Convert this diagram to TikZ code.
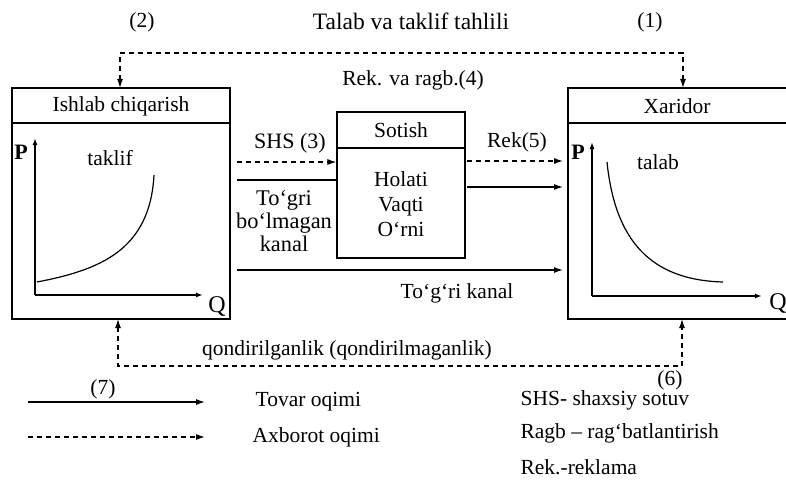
\documentclass[tikz,border=0pt]{standalone}
\usepackage{fontspec}
\setmainfont{Liberation Serif}
\usetikzlibrary{arrows.meta}
\begin{document}
\begin{tikzpicture}[x=1pt,y=-1pt,line width=1.2pt, >={Latex[length=9pt,width=6pt]},
  font=\fontsize{21.5}{25}\selectfont,
  box/.style={draw,rectangle,inner sep=0pt},
  info/.style={dash pattern=on 5pt off 4pt},
  lbl/.style={inner sep=0pt,align=center},
  axlbl/.style={lbl,font=\fontsize{22}{26}\selectfont\bfseries},
  ax/.style={->,line width=1.4pt,>={Latex[length=7pt,width=5pt]}}]

  \useasboundingbox (0,0) rectangle (786,484);

  \def\ytop{88}
  \def\ybot{319}
  \def\yhead{123}

  % Boxes
  \node[box,minimum width=218pt,minimum height=231pt] (ishlab) at (121,203.5) {};
  \draw (12,\yhead) -- (230,\yhead);
  \node[lbl] (ishlabt) at (121,106) {Ishlab chiqarish};

  \node[box,minimum width=128pt,minimum height=146pt] (sotish) at (401,185) {};
  \draw (337,148) -- (465,148);
  \node[lbl] (sotisht) at (401,130) {Sotish};
  \node[lbl] (holat) at (401,204) {Holati\\Vaqti\\O‘rni};

  \draw (786,\ytop) -- (568,\ytop) -- (568,\ybot) -- (786,\ybot);
  \draw (568,\yhead) -- (786,\yhead);
  \node[lbl] (xaridort) at (677,106) {Xaridor};

  % Supply and demand graphs
  \coordinate (o1) at (35,295);
  \draw[ax] (o1) -- (35,138);
  \draw[ax] (o1) -- (203,295);
  \node[axlbl] (p1) at (21,152) {P};
  \node[lbl,font=\fontsize{24}{28}\selectfont] (q1) at (217,306) {Q};
  \node[lbl] (taklif) at (110,158) {taklif};
  \draw (37,282) .. controls (100,270) and (150,250) .. (154,175);

  \coordinate (o2) at (592,296);
  \draw[ax] (o2) -- (592,142);
  \draw[ax] (o2) -- (762,296);
  \node[axlbl] (p2) at (578,152) {P};
  \node[lbl,font=\fontsize{24}{28}\selectfont] (q2) at (778,303) {Q};
  \node[lbl] (talab) at (658,162) {talab};
  \draw (607,162) .. controls (615,240) and (650,280) .. (723,282);

  % Channels between the boxes
  \coordinate (shs) at (237,162);
  \coordinate (egri) at (237,180);
  \coordinate (tegri) at (237,270);
  \coordinate (rek) at (467,161);
  \coordinate (tov) at (467,187);
  \draw[info,->] (shs) -- (shs -| sotish.west);
  \draw (egri) -- (egri -| sotish.west);
  \draw[->] (tegri) -- (563,270);
  \draw[info,->] (rek) -- (563,161);
  \draw[->] (tov) -- (563,187);
  \node[lbl,font=\fontsize{22}{26}\selectfont] (shst) at (290,143) {SHS (3)};
  \node[lbl] (rekt) at (517,142) {Rek(5)};
  \node[lbl,font=\fontsize{22.4}{23}\selectfont] (egrit) at (284,221) {To‘gri\\bo‘lmagan\\kanal};
  \node[lbl] (tegrit) at (457,293) {To‘g‘ri kanal};
  \node[lbl] (rekva) at (413,80) {Rek. va ragb.(4)};

  % Feedback loops
  \draw[info,<->] (120,\ytop) |- (683,53) -- (683,\ytop);
  \draw[info,<->] (118,\ybot) |- (682,366) -- (682,\ybot);
  \node[lbl,font=\fontsize{23.5}{27}\selectfont] (tahlil) at (411,21) {Talab va taklif tahlili};
  \node[lbl] (n2) at (142,22) {(2)};
  \node[lbl] (n1) at (650,22) {(1)};
  \node[lbl] (qond) at (347,350) {qondirilganlik (qondirilmaganlik)};
  \node[lbl] (n7) at (103,389) {(7)};
  \node[lbl] (n6) at (670,380) {(6)};

  % Legend
  \draw[->] (28,402) -- (205,402);
  \draw[info,->] (28,437) -- (205,437);
  \node[lbl,anchor=west] (tovar) at (255,402) {Tovar oqimi};
  \node[lbl,anchor=west] (axborot) at (252,437) {Axborot oqimi};
  \node[lbl,anchor=west] (l1) at (520,400) {SHS- shaxsiy sotuv};
  \node[lbl,anchor=west] (l2) at (520,433) {Ragb – rag‘batlantirish};
  \node[lbl,anchor=west] (l3) at (520,467) {Rek.-reklama};

\end{tikzpicture}
\end{document}
